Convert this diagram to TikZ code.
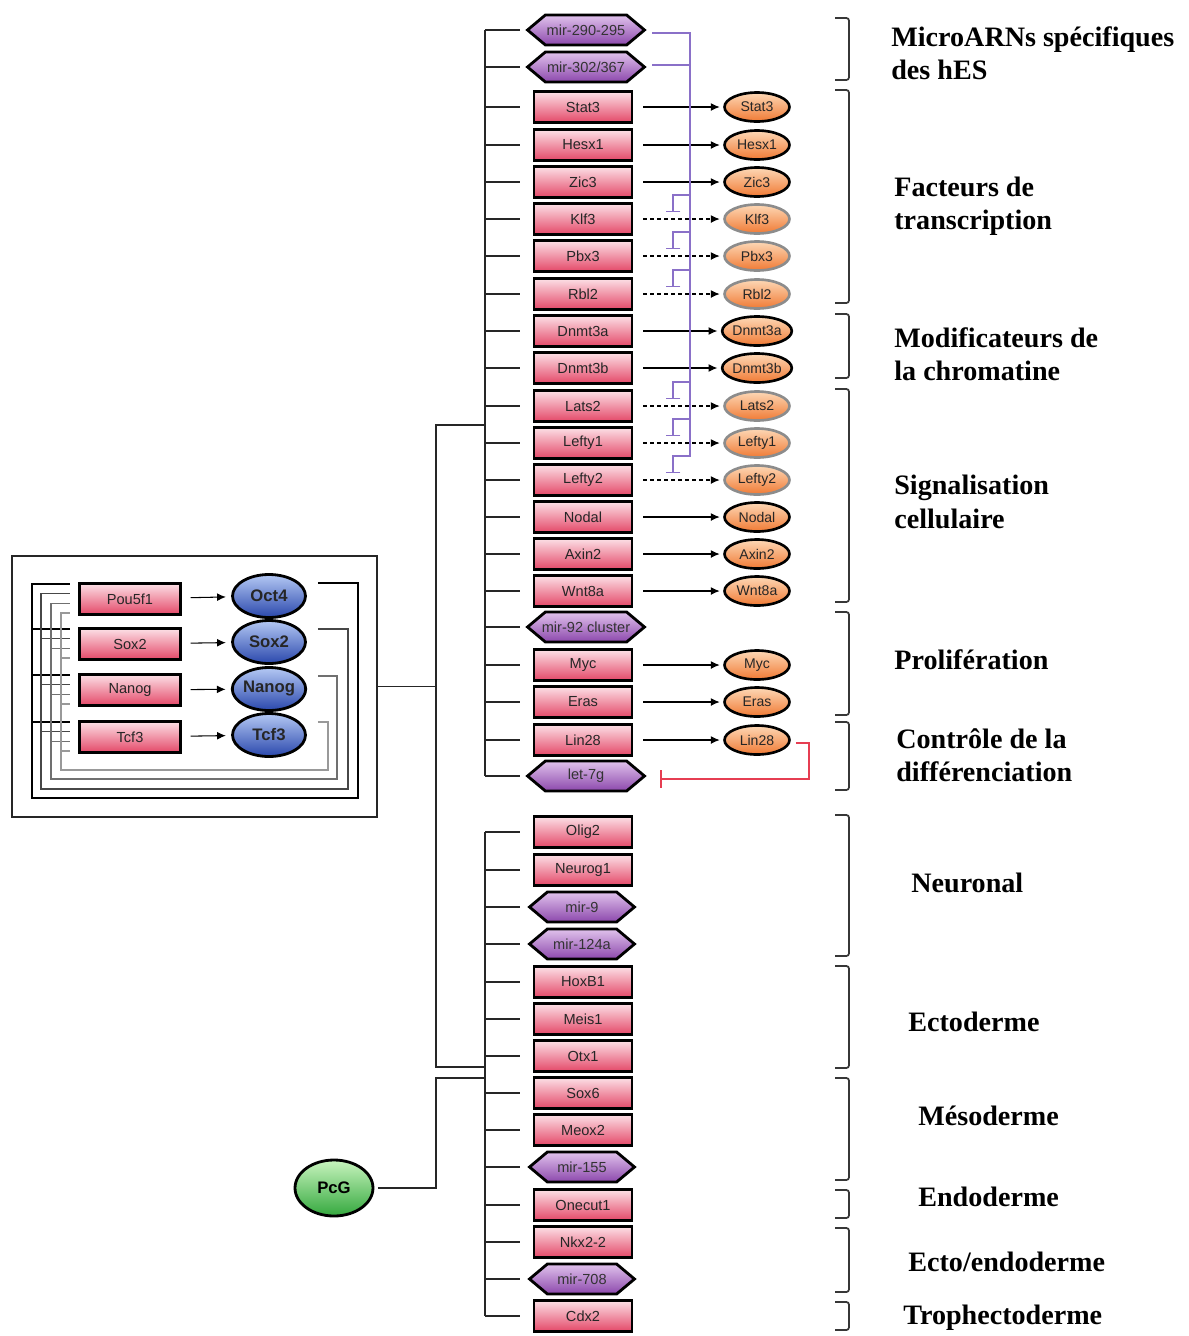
\documentclass[tikz,border=0pt]{standalone}
\usepackage{fontspec}
\setmainfont{Liberation Sans}
\newfontfamily\serifbold{Liberation Serif}
\usetikzlibrary{shapes.geometric,shapes.symbols,arrows.meta}

\definecolor{boxtop}{RGB}{252,224,230}
\definecolor{boxbot}{RGB}{228,72,104}
\definecolor{mirtop}{RGB}{224,194,236}
\definecolor{mirbot}{RGB}{140,72,172}
\definecolor{orgtop}{RGB}{253,216,182}
\definecolor{orgbot}{RGB}{240,122,52}
\definecolor{blutop}{RGB}{180,200,244}
\definecolor{blubot}{RGB}{42,72,172}
\definecolor{grntop}{RGB}{200,244,190}
\definecolor{grnbot}{RGB}{52,168,62}
\definecolor{inhcol}{RGB}{138,112,200}
\definecolor{redinh}{RGB}{230,62,82}
\definecolor{brk}{RGB}{55,55,55}

\begin{document}
\begin{tikzpicture}[x=0.02cm, y=-0.02cm,
    gene/.style={draw, line width=1.6pt, rectangle, top color=boxtop, bottom color=boxbot,
      minimum width=1.96cm, minimum height=0.62cm, inner sep=0pt, text=black!85,
      font=\fontsize{8.3}{10}\selectfont},
    mir/.style={draw, line width=1.6pt, signal, signal to=east and west, signal pointer angle=80,
      top color=mirtop, bottom color=mirbot, minimum width=2.1cm, minimum height=0.6cm,
      inner sep=0pt, text=black!80, font=\fontsize{8.3}{10}\selectfont},
    wide/.style={minimum width=2.34cm},
    prot/.style={draw, line width=1.5pt, ellipse, top color=orgtop, bottom color=orgbot,
      minimum width=1.3cm, minimum height=0.58cm, inner sep=0pt, text=black!85,
      font=\fontsize{8}{10}\selectfont},
    weak/.style={draw=black!45},
    core/.style={draw, line width=1.6pt, ellipse, top color=blutop, bottom color=blubot,
      minimum width=1.46cm, minimum height=0.86cm, inner sep=0pt, text=black!85,
      font=\fontsize{9.5}{11}\selectfont\bfseries},
    act/.style={-{Latex[length=5pt,width=4.5pt]}, semithick, shorten <=5.5pt, shorten >=2pt},
    tree/.style={line width=0.9pt, black!85},
    fb/.style={line width=0.8pt},
    inh/.style={line width=0.8pt, inhcol},
    lab/.style={anchor=west, align=left, inner sep=0pt,
      font=\serifbold\bfseries\fontsize{16}{19}\selectfont},
    brack/.style={line width=1pt, brk, rounded corners=1.5pt}]

  \path[use as bounding box, fill=white] (0,0) rectangle (1189,1336);

  \coordinate (spA) at (485,0);
  \coordinate (tk) at (520,0);
  \coordinate (trk) at (436,0);
  \coordinate (pv) at (690,0);

  % genes
  \foreach \i/\y/\t in {3/107/Stat3, 4/145/Hesx1, 5/182/Zic3, 6/219/Klf3, 7/256/Pbx3,
      8/294/Rbl2, 9/331/Dnmt3a, 10/368/Dnmt3b, 11/406/Lats2, 12/443/Lefty1, 13/480/Lefty2,
      14/517/Nodal, 15/554/Axin2, 16/591/Wnt8a, 18/665/Myc, 19/702/Eras, 20/740/Lin28,
      22/832/Olig2, 23/870/Neurog1, 26/982/HoxB1, 27/1019/Meis1, 28/1056/Otx1,
      29/1093/Sox6, 30/1130/Meox2, 32/1205/Onecut1, 33/1242/Nkx2-2, 35/1316/Cdx2}
    \node[gene] (g\i) at (583,\y) {\t};
  \foreach \i/\y/\t in {1/30/{mir-290-295}, 2/67/{mir-302/367}, 21/776/{let-7g}}
    \node[mir, wide] (g\i) at (586,\y) {\t};
  \node[mir, wide, inner xsep=-9pt] (g17) at (586,627) {mir-92 cluster};
  \foreach \i/\y/\t in {24/907/mir-9, 25/944/mir-124a, 31/1167/mir-155, 34/1279/mir-708}
    \node[mir] (g\i) at (582,\y) {\t};

  % tree
  \draw[tree] (g1.west -| spA) -- (g21.west -| spA);
  \draw[tree] (g22.west -| spA) -- (g35.west -| spA);
  \foreach \i in {1,...,35}
    \draw[tree] (g\i.west -| spA) -- (g\i.west -| tk);

  % proteins
  \foreach \i/\t in {3/Stat3, 4/Hesx1, 5/Zic3, 9/Dnmt3a, 10/Dnmt3b, 14/Nodal, 15/Axin2,
      16/Wnt8a, 18/Myc, 19/Eras, 20/Lin28} {
    \node[prot] (t\i) at (g\i.center -| 757,0) {\t};
    \draw[act] (g\i) -- (t\i);
  }
  \foreach \i/\t in {6/Klf3, 7/Pbx3, 8/Rbl2, 11/Lats2, 12/Lefty1, 13/Lefty2} {
    \node[prot, weak] (t\i) at (g\i.center -| 757,0) {\t};
    \draw[act, dashed, dash pattern=on 2.2pt off 1.8pt] (g\i) -- (t\i);
  }

  % microRNA inhibition
  \coordinate (m1) at (652,33);
  \coordinate (m2) at (652,65);
  \coordinate (pvb) at (690,457);
  \draw[inh] (m1) -| (pvb);
  \draw[inh] (m2) -- (m2 -| pv);
  \foreach \i/\y in {6/219, 7/256, 8/294, 11/406, 12/443, 13/480} {
    \coordinate (k\i) at (690,{\y-24});
    \coordinate (kb\i) at (673,{\y-7});
    \draw[inh, -{Bar[width=8.5pt, line width=0.8pt]}] (k\i) -| (kb\i);
  }

  % lin28 / let-7g
  \coordinate (rc) at (809,779);
  \coordinate (l7) at (660,779);
  \draw[redinh, line width=0.9pt, -{Bar[width=10pt, line width=0.9pt]}]
    ([shift={(5,3)}]t20.east) -| (rc) -- (l7);

  % core circuit
  \node[draw, line width=0.9pt, black!85, minimum width=7.3cm, minimum height=5.22cm] (box) at (194.5,686.5) {};
  \foreach \j/\y/\t/\e/\p in {1/599/Pou5f1/596/Oct4, 2/644/Sox2/642/Sox2,
      3/690/Nanog/689/Nanog, 4/737/Tcf3/735/Tcf3} {
    \node[gene, minimum width=2.02cm] (c\j) at (130,\y) {\t};
    \node[core] (b\j) at (269,\e) {\p};
    \draw[act, shorten <=5pt, shorten >=3pt] (c\j) -- (b\j);
  }
  \coordinate (tkl) at (70,0);
  \foreach \i/\c/\xr/\yb/\xl in {1/black/358/798/32, 2/black!72/348/789/41,
      3/black!56/337/779/51, 4/black!40/328/770/61} {
    \coordinate (fr\i) at (\xr,\yb);
    \coordinate (fl\i) at (\xl,{584+9.6*(\i-1)});
    \draw[fb, \c] ([shift={(11,-13)}]b\i.east) -| (fr\i) -| (fl\i) -- (fl\i -| tkl);
    \foreach \y in {644,690,737}
      \draw[fb, \c] (\xl,{\y-15+9.6*(\i-1)}) -- (tkl |- 0,{\y-15+9.6*(\i-1)});
  }

  % trunk
  \coordinate (jA) at (485,425);
  \coordinate (jB) at (485,1067);
  \coordinate (jC) at (485,1078);
  \node[draw, line width=1.6pt, ellipse, top color=grntop, bottom color=grnbot,
    minimum width=1.56cm, minimum height=1.12cm, font=\fontsize{9.5}{11}\selectfont\bfseries] (pcg) at (334,1188) {PcG};
  \draw[tree] (box.east) -- (box.east -| trk);
  \draw[tree] (jA) -- (jA -| trk) -- (jB -| trk) -- (jB);
  \draw[tree] ([xshift=2pt]pcg.east) -- (pcg.east -| trk) -- (jC -| trk) -- (jC);

  % brackets
  \foreach \a/\b in {18/80, 90/303, 314/378, 389/602, 612/715, 722/790, 815/956,
      966/1068, 1078/1180, 1190/1218, 1228/1292, 1302/1330}
    \draw[brack] (835,\a) -- (849,\a) -- (849,\b) -- (835,\b);

  % labels
  \node[lab] (lab1) at (891,53) {MicroARNs spécifiques\\des hES};
  \node[lab] (lab2) at (894,206) {Facteurs de\\transcription};
  \node[lab] (lab3) at (894,354) {Modificateurs de\\la chromatine};
  \node[lab] (lab4) at (894,502) {Signalisation\\cellulaire};
  \node[lab] (lab5) at (894,660) {Prolifération};
  \node[lab] (lab6) at (896,755) {Contrôle de la\\différenciation};
  \node[lab] (lab7) at (911,883) {Neuronal};
  \node[lab] (lab8) at (908,1022) {Ectoderme};
  \node[lab] (lab9) at (918,1116) {Mésoderme};
  \node[lab] (lab10) at (918,1197) {Endoderme};
  \node[lab] (lab11) at (908,1262) {Ecto/endoderme};
  \node[lab] (lab12) at (903,1318) {Trophectoderme};

\end{tikzpicture}
\end{document}
